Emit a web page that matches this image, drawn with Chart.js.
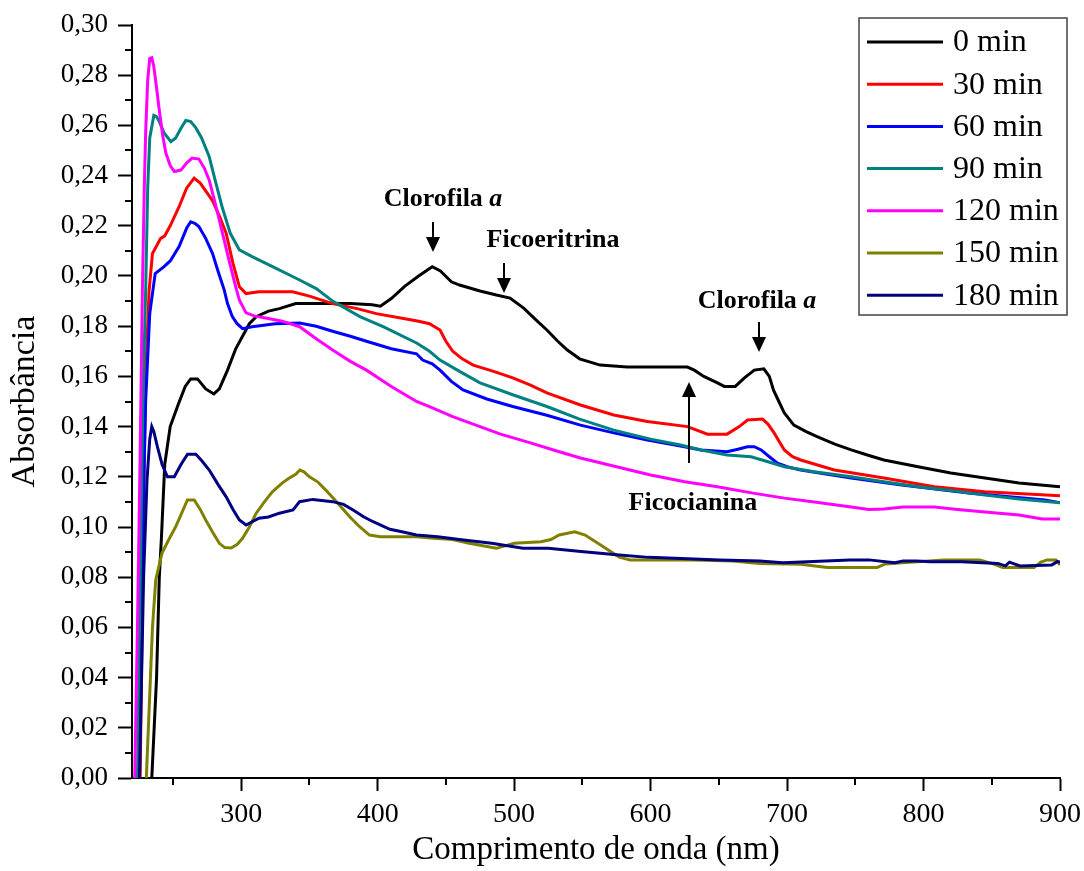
<!DOCTYPE html>
<html>
<head>
<meta charset="utf-8">
<script src="https://cdn.jsdelivr.net/npm/chart.js@4.4.0/dist/chart.umd.min.js"></script>
<style>
html,body{margin:0;padding:0;background:#fff;}
canvas{display:block;}
</style>
</head>
<body>
<canvas id="c" width="1084" height="871"></canvas>
<script>
// axis ticks
var xTicks=[300,400,500,600,700,800,900];
var xMinor=[250,350,450,550,650,750,850];
var yTicks=[0,0.02,0.04,0.06,0.08,0.10,0.12,0.14,0.16,0.18,0.20,0.22,0.24,0.26,0.28,0.30];
var yMinor=[0.01,0.03,0.05,0.07,0.09,0.11,0.13,0.15,0.17,0.19,0.21,0.23,0.25,0.27,0.29];

var seriesNames=['0 min','30 min','60 min','90 min','120 min','150 min','180 min'];
var seriesColors=['#000000','#ff0000','#0000ff','#008080','#ff00ff','#808000','#000080'];

// 0 min
var wl0=[234.5,238,240,241.5,244,248,254,259,263,268,274,280,284,290,296,301,306,311,320,328,340,360,380,396,402,410,420,430,440,446,454,460,475,487,497,507,516,524,532,539,548,563,583,627,632,639,649,654,662,669,676,683,687,690,694,698,705,714,722,735,747,760,771,796,820,845,870,900];
var ab0=[0,0.04,0.08,0.095,0.125,0.14,0.149,0.156,0.159,0.159,0.155,0.153,0.155,0.1625,0.171,0.176,0.181,0.1838,0.186,0.187,0.189,0.189,0.189,0.1885,0.188,0.191,0.196,0.2,0.2037,0.202,0.1977,0.1964,0.194,0.1924,0.1912,0.1872,0.1825,0.1785,0.174,0.1705,0.167,0.1645,0.1637,0.1637,0.1625,0.16,0.1574,0.156,0.156,0.1595,0.1625,0.163,0.16,0.1546,0.15,0.1454,0.1406,0.138,0.136,0.133,0.1307,0.1285,0.1267,0.124,0.1215,0.1195,0.1175,0.116];
// 30 min
var wl1=[226,228,230,232.5,235,241,244,248,254.5,260,265.5,270,279,284,289,294,298.7,303.6,313,337.6,350,367,385,399,420,430,438,445.7,450,455,462,470,485,499,512,524,548.6,573,597.6,627,641.7,656,665,671,682,686,690.5,698,704,710,734.6,771,808,845,900];
var ab1=[0,0.09,0.16,0.194,0.209,0.215,0.216,0.22,0.2276,0.235,0.239,0.237,0.23,0.224,0.217,0.205,0.1957,0.193,0.1937,0.1937,0.192,0.189,0.187,0.185,0.183,0.182,0.181,0.1785,0.174,0.17,0.167,0.1645,0.162,0.1594,0.1565,0.1534,0.1486,0.1446,0.142,0.14,0.137,0.137,0.14,0.1426,0.143,0.141,0.1375,0.1307,0.128,0.1267,0.1227,0.1195,0.116,0.114,0.1124];
// 60 min
var wl2=[224.5,227,230,233,237,243.5,248,254.5,260,263,266,269,274,279,283,287.6,290,293.5,297,301,308,325,342.8,355,367,380,391.8,410,428.5,433,440,445.7,454,462.6,480,499,524,548.6,573,597.6,620,637,656,664,671,676,681,687,693,700,710,747,784,833,889,900];
var ab2=[0,0.08,0.15,0.185,0.201,0.2037,0.206,0.2117,0.219,0.2216,0.221,0.2197,0.215,0.209,0.202,0.1944,0.189,0.1838,0.181,0.179,0.1798,0.181,0.1813,0.18,0.178,0.176,0.174,0.171,0.169,0.1665,0.165,0.1625,0.158,0.1546,0.151,0.148,0.1445,0.1406,0.1375,0.1347,0.1325,0.1307,0.130,0.131,0.132,0.132,0.1307,0.128,0.1254,0.124,0.1227,0.1195,0.1167,0.1135,0.1108,0.1097];
// 90 min
var wl3=[224,226,228,230,231.5,233,236,238,240,243.5,248.5,252,256,259.4,263,266.8,271,276.6,281,286,292,298.7,308,323,342.8,355,367,387,404,428.5,438,445.7,460,475,500,524,548,573,600,622,637,656,673.6,686,698,720,747,771,796,820,845,870,900];
var ab3=[0,0.08,0.15,0.194,0.235,0.255,0.264,0.2635,0.2615,0.257,0.2535,0.255,0.259,0.262,0.2615,0.259,0.255,0.2475,0.238,0.2276,0.217,0.2104,0.2077,0.2037,0.1984,0.195,0.19,0.1838,0.1798,0.1733,0.170,0.1665,0.162,0.1574,0.1525,0.148,0.143,0.1386,0.135,0.1327,0.1307,0.1287,0.128,0.126,0.124,0.122,0.12,0.118,0.116,0.1145,0.1127,0.1112,0.1097];
// 120 min
var wl4=[222,224,226,227.6,229,230,231.5,233,234.5,236,238,240,242.5,244.8,248,251,255.8,260,264,269,273,276.6,280,284,291,296,298.7,303.6,310,318,330,342.8,355,367,380,391.8,410,428.5,438,455,475,490,512,530,548.6,575,600,625,649,675,698,720,747,760,771,785,796,808,825,845,870,887,900];
var ab4=[0,0.06,0.13,0.194,0.235,0.257,0.278,0.2867,0.287,0.2834,0.275,0.266,0.256,0.249,0.244,0.2416,0.2422,0.245,0.247,0.2466,0.243,0.2382,0.231,0.2223,0.2064,0.1957,0.1904,0.1853,0.184,0.1833,0.182,0.1798,0.175,0.1705,0.166,0.1625,0.156,0.15,0.148,0.144,0.14,0.137,0.1335,0.1305,0.1275,0.124,0.1207,0.118,0.116,0.1135,0.1115,0.11,0.108,0.107,0.1072,0.108,0.108,0.108,0.107,0.106,0.1048,0.1032,0.1032];
// 150 min
var wl5=[230.5,232,233.5,235,237.4,242,247,252,256,260.6,265.6,270,274,279,284,288,292.6,297,301,306,311,317,323,330,335,340,343,346,350,356,362,370,379.5,387,394,402,428.5,441,455,467,487,500,519.7,527,533,544.5,552,560,569,577,585,631,660,680,710,729.5,766,772,790,815,841,850,858,881,886,890.6,897,900];
var ab5=[0,0.02,0.04,0.06,0.0789,0.0896,0.095,0.1001,0.105,0.1108,0.1108,0.107,0.1028,0.098,0.0935,0.0918,0.0916,0.093,0.0955,0.1,0.1055,0.11,0.1141,0.1175,0.1194,0.121,0.1227,0.122,0.12,0.118,0.1147,0.11,0.1041,0.1,0.0968,0.0961,0.0961,0.0955,0.095,0.0935,0.0915,0.0935,0.0941,0.095,0.0968,0.0981,0.0968,0.094,0.0908,0.088,0.0869,0.0869,0.0865,0.0855,0.0852,0.0839,0.0839,0.0853,0.086,0.0869,0.0869,0.0855,0.0839,0.0839,0.086,0.0869,0.0869,0.0849];
// 180 min
var wl6=[225.5,227,228.5,231,233,234.5,236,238.6,242,246,251,256,260.7,266.8,271,276.6,283,289,294,298.7,303.6,313,320,328,338,342.8,352.5,367,375,382,390,396.7,409,417.8,428.5,444,460,483.6,506.6,525,549,575,598.6,651,680,697,746,760,779,785,795,805,828,854.5,860,863,870.6,894,898,900];
var ab6=[0,0.04,0.08,0.1187,0.135,0.14,0.138,0.132,0.125,0.12,0.12,0.125,0.129,0.129,0.1265,0.1227,0.117,0.112,0.107,0.1028,0.1008,0.1035,0.104,0.1055,0.1068,0.1101,0.111,0.1101,0.109,0.1068,0.104,0.1021,0.0991,0.0981,0.0968,0.0961,0.095,0.0935,0.0915,0.0915,0.0902,0.0889,0.0879,0.0869,0.0865,0.0858,0.0869,0.0869,0.0858,0.0865,0.0865,0.0862,0.0862,0.0855,0.0845,0.086,0.0845,0.0849,0.0862,0.086];

var allWl=[wl0,wl1,wl2,wl3,wl4,wl5,wl6];
var allAb=[ab0,ab1,ab2,ab3,ab4,ab5,ab6];

// annotations (data coords)
var noteText=['Clorofila ','Ficoeritrina','Clorofila ','Ficocianina'];
var noteItal=['a','','a',''];
var noteX=[447.9,528.5,678,631];
var noteY=[0.2307,0.2143,0.19,0.1096];
var arrowX=[440.6,492.6,679.4,628];
var arrowFrom=[0.2215,0.2052,0.1817,0.1255];
var arrowTo=[0.2096,0.1932,0.1697,0.1578];

var FONT='"Liberation Serif","Times New Roman",serif';

function pts(wl,ab){
  var out=[];
  var n=Math.min(wl.length,ab.length);
  for(var i=0;i<n;i++) out.push({x:wl[i],y:ab[i]});
  return out;
}
var datasets=[];
for(var k=0;k<seriesNames.length;k++){
  datasets.push({label:seriesNames[k],data:pts(allWl[k],allAb[k]),
    borderColor:seriesColors[k],borderWidth:3,pointRadius:0,tension:0,
    fill:false,order:seriesNames.length-k});
}

var extras={
  id:'extras',
  afterDraw:function(chart){
    var ctx=chart.ctx,xs=chart.scales.x,ys=chart.scales.y,a=chart.chartArea;
    ctx.save();
    // minor ticks
    ctx.strokeStyle='#000';ctx.lineWidth=2;
    ctx.beginPath();
    for(var i=0;i<xMinor.length;i++){
      var px=Math.round(xs.getPixelForValue(xMinor[i]));
      ctx.moveTo(px,a.bottom);ctx.lineTo(px,a.bottom+7);
    }
    for(var j=0;j<yMinor.length;j++){
      var py=Math.round(ys.getPixelForValue(yMinor[j]));
      ctx.moveTo(a.left-7,py);ctx.lineTo(a.left,py);
    }
    ctx.stroke();
    // annotation labels
    ctx.fillStyle='#000';ctx.textBaseline='middle';ctx.textAlign='left';
    for(var n=0;n<noteText.length;n++){
      var cx=xs.getPixelForValue(noteX[n]),cy=ys.getPixelForValue(noteY[n]);
      ctx.font='bold 26px '+FONT;
      var w1=ctx.measureText(noteText[n]).width;
      ctx.font='italic bold 26px '+FONT;
      var w2=noteItal[n]?ctx.measureText(noteItal[n]).width:0;
      var sx=cx-(w1+w2)/2;
      ctx.font='bold 26px '+FONT;
      ctx.fillText(noteText[n],sx,cy);
      if(noteItal[n]){ctx.font='italic bold 26px '+FONT;ctx.fillText(noteItal[n],sx+w1,cy);}
    }
    // arrows
    for(var m=0;m<arrowX.length;m++){
      var ax=Math.round(xs.getPixelForValue(arrowX[m]));
      var y1=ys.getPixelForValue(arrowFrom[m]),y2=ys.getPixelForValue(arrowTo[m]);
      var dir=y2>y1?1:-1,hl=15,hw=7;
      ctx.lineWidth=2;
      ctx.beginPath();ctx.moveTo(ax,y1);ctx.lineTo(ax,y2-dir*hl);ctx.stroke();
      ctx.beginPath();ctx.moveTo(ax,y2);ctx.lineTo(ax-hw,y2-dir*hl);ctx.lineTo(ax+hw,y2-dir*hl);ctx.closePath();ctx.fill();
    }
    // legend box
    var lx=859,ly=18,lw=208,lh=297;
    ctx.fillStyle='#fff';ctx.fillRect(lx,ly,lw,lh);
    ctx.strokeStyle='#444';ctx.lineWidth=1.5;ctx.strokeRect(lx,ly,lw,lh);
    ctx.font='32px '+FONT;ctx.textBaseline='middle';ctx.textAlign='left';
    chart.data.datasets.forEach(function(ds,i){
      var ry=42+i*42.2;
      ctx.strokeStyle=ds.borderColor;ctx.lineWidth=3;
      ctx.beginPath();ctx.moveTo(867,ry);ctx.lineTo(943,ry);ctx.stroke();
      ctx.fillStyle='#000';ctx.fillText(ds.label,953,ry+1);
    });
    ctx.restore();
  }
};

new Chart(document.getElementById('c'),{
  type:'line',
  data:{datasets:datasets},
  options:{
    responsive:false,animation:false,devicePixelRatio:1,events:[],
    layout:{padding:{left:0,right:24,top:25,bottom:0}},
    plugins:{legend:{display:false},tooltip:{enabled:false}},
    scales:{
      x:{type:'linear',min:220,max:900,
        afterBuildTicks:function(s){s.ticks=xTicks.map(function(v){return {value:v};});},
        afterFit:function(s){s.height=93;s.paddingLeft=0;s.paddingRight=0;},
        ticks:{color:'#000',font:{family:FONT,size:28},padding:7,maxRotation:0,autoSkip:false,
          callback:function(v){return String(v);}},
        grid:{drawOnChartArea:false,drawTicks:true,tickLength:13,tickWidth:2,tickColor:'#000'},
        border:{display:true,color:'#000',width:2},
        title:{display:true,text:'Comprimento de onda (nm)',color:'#000',
          font:{family:FONT,size:33,lineHeight:1},padding:{top:0,bottom:4}}
      },
      y:{type:'linear',min:0,max:0.30,
        afterBuildTicks:function(s){s.ticks=yTicks.map(function(v){return {value:v};});},
        afterFit:function(s){s.width=132;s.paddingTop=0;s.paddingBottom=0;},
        ticks:{color:'#000',font:{family:FONT,size:27},padding:10,autoSkip:false,
          callback:function(v){return Number(v).toFixed(2).replace('.',',');}},
        grid:{drawOnChartArea:false,drawTicks:true,tickLength:14,tickWidth:2,tickColor:'#000'},
        border:{display:true,color:'#000',width:2},
        title:{display:true,text:'Absorbância',color:'#000',
          font:{family:FONT,size:34,lineHeight:1},padding:{top:8,bottom:0}}
      }
    }
  },
  plugins:[extras]
});
</script>
</body>
</html>
